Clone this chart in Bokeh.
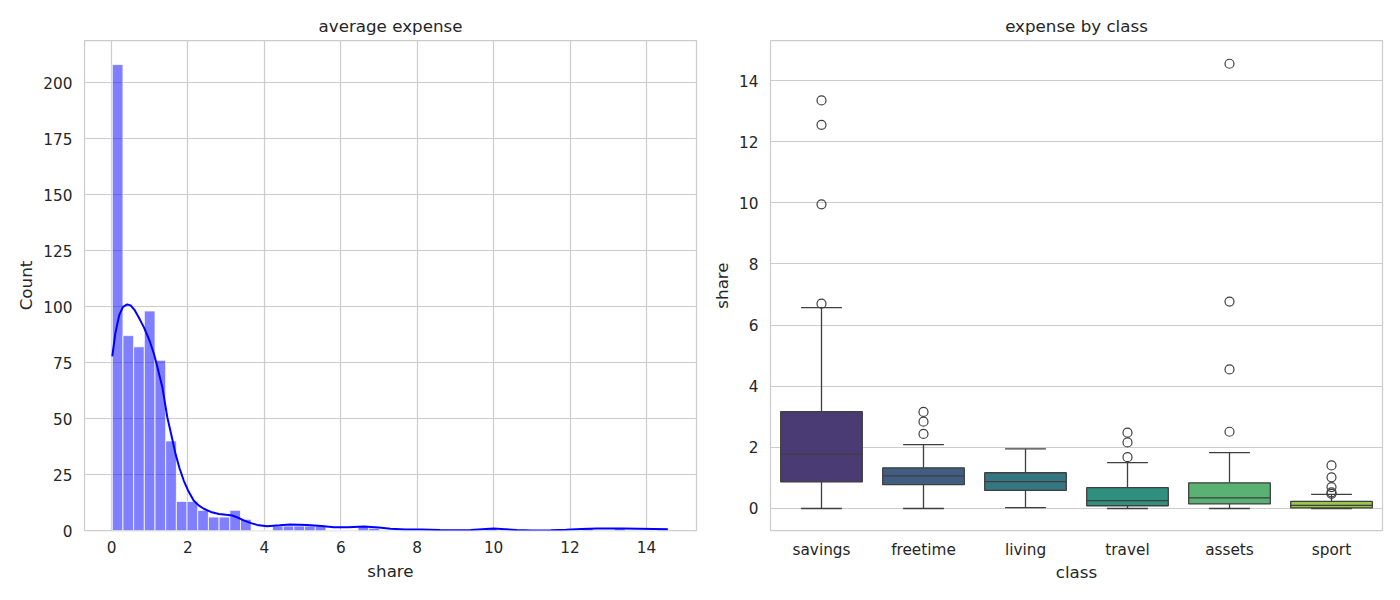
import numpy as np
from bokeh.plotting import figure
from bokeh.layouts import row
from bokeh.models import Range1d, FactorRange, FixedTicker, ColumnDataSource
from bokeh.transform import dodge
from bokeh.embed import file_html
from bokeh.resources import INLINE

# ---------------- data ----------------
hist_min = 0.02
hist_max = 14.56
hist_counts = [208, 87, 82, 98, 76, 40, 13, 13, 9, 6, 6, 9, 5, 0, 0,
               2, 2, 2, 2, 2, 0, 0, 0, 2, 1, 0, 0, 0, 0, 0,
               0, 0, 0, 0, 0, 1, 0, 0, 0, 0, 0, 0, 0, 0, 1,
               0, 0, 1, 0, 0, 0, 1]

kde_x = [0.02, 0.1, 0.2, 0.3, 0.41, 0.5, 0.6, 0.7, 0.845, 1.0, 1.11, 1.2, 1.33,
         1.46, 1.575, 1.675, 1.78, 1.89, 2.0, 2.15, 2.28, 2.415, 2.6,
         2.81, 3.0, 3.16, 3.3, 3.46, 3.65, 3.81, 4.07, 4.4, 4.68, 5.12, 5.5, 5.82,
         6.2, 6.6, 7.0, 7.3, 7.7, 8.1, 8.6, 9.0, 9.4, 9.7, 10.0, 10.3, 10.6, 11.0,
         11.5, 11.9, 12.3, 12.7, 13.0, 13.4, 13.8, 14.2, 14.56]
kde_y = [77.7, 88.0, 96.0, 99.8, 100.9, 100.5, 98.5, 95.5, 90.8, 84.5, 78.9, 73.0, 64.0,
         50.6, 42.0, 34.2, 27.8, 22.3, 18.0, 13.4, 11.2, 9.7, 8.3,
         7.4, 7.0, 6.7, 5.8, 4.5, 3.3, 2.5, 1.9, 2.3, 2.7, 2.5, 2.0, 1.5,
         1.4, 1.8, 1.3, 0.75, 0.5, 0.45, 0.2, 0.1, 0.2, 0.6, 0.9, 0.6, 0.2, 0.05,
         0.1, 0.3, 0.7, 0.9, 0.9, 0.9, 0.8, 0.7, 0.6]

hist_xticks = [0, 2, 4, 6, 8, 10, 12, 14]
hist_yticks = [0, 25, 50, 75, 100, 125, 150, 175, 200]

classes = ["savings", "freetime", "living", "travel", "assets", "sport"]
q1 = [0.87, 0.78, 0.59, 0.09, 0.15, 0.02]
med = [1.77, 1.07, 0.88, 0.26, 0.35, 0.10]
q3 = [3.17, 1.33, 1.17, 0.68, 0.84, 0.23]
whisk_lo = [0.0, 0.0, 0.03, 0.0, 0.0, 0.0]
whisk_hi = [6.57, 2.09, 1.95, 1.50, 1.83, 0.46]
outliers_savings = [6.70, 9.95, 12.55, 13.35]
outliers_freetime = [2.44, 2.84, 3.16]
outliers_living = []
outliers_travel = [1.68, 2.16, 2.48]
outliers_assets = [2.51, 4.55, 6.77, 14.55]
outliers_sport = [0.48, 0.53, 0.70, 1.02, 1.41]
box_yticks = [0, 2, 4, 6, 8, 10, 12, 14]

box_colors = ["#4b3b75", "#415d82", "#347681", "#2f917d", "#59b273", "#9ac64d"]

# ---------------- styling helpers ----------------
FONT = "DejaVu Sans"
TXT = "#262626"
GRID = "#cccccc"


def style(p):
    p.background_fill_color = "white"
    p.border_fill_color = "white"
    p.outline_line_color = GRID
    p.outline_line_width = 1.25
    p.title.align = "center"
    p.title.text_font = FONT
    p.title.text_font_size = "16.7px"
    p.title.text_font_style = "normal"
    p.title.text_color = TXT
    p.title.standoff = 9
    for ax in (p.xaxis, p.yaxis):
        ax.axis_line_color = None
        ax.major_tick_line_color = None
        ax.minor_tick_line_color = None
        ax.major_tick_out = 0
        ax.major_tick_in = 0
        ax.major_label_text_font = FONT
        ax.major_label_text_font_size = "15.3px"
        ax.major_label_text_color = TXT
        ax.axis_label_text_font = FONT
        ax.axis_label_text_font_size = "16.7px"
        ax.axis_label_text_font_style = "normal"
        ax.axis_label_text_color = TXT
    p.xaxis.major_label_standoff = 10
    p.yaxis.major_label_standoff = 12
    p.xaxis.axis_label_standoff = 5
    p.yaxis.axis_label_standoff = 4
    p.grid.grid_line_color = GRID
    p.grid.grid_line_width = 1.2


# ---------------- left: histogram ----------------
edges = np.linspace(hist_min, hist_max, len(hist_counts) + 1)
hsrc = ColumnDataSource(dict(left=edges[:-1], right=edges[1:], top=hist_counts,
                             bottom=[0] * len(hist_counts)))

p1 = figure(width=702, height=600, x_range=Range1d(-0.707, 15.31), y_range=Range1d(0, 218.75),
            output_backend="svg", toolbar_location=None, title="average expense",
            min_border_left=84, min_border_right=6, min_border_top=40, min_border_bottom=70)
style(p1)
p1.xaxis.ticker = FixedTicker(ticks=hist_xticks)
p1.yaxis.ticker = FixedTicker(ticks=hist_yticks)
p1.xaxis.axis_label = "share"
p1.yaxis.axis_label = "Count"
p1.quad(left="left", right="right", top="top", bottom="bottom", source=hsrc,
        fill_color="#0000ff", fill_alpha=0.5, line_color="white", line_width=0.8)
p1.line(kde_x, kde_y, line_color="#0000ff", line_width=2)

# ---------------- right: boxplot ----------------
bsrc = ColumnDataSource(dict(cls=classes, q1=q1, q3=q3, med=med, lo=whisk_lo, hi=whisk_hi,
                             color=box_colors))
out_lists = [outliers_savings, outliers_freetime, outliers_living,
             outliers_travel, outliers_assets, outliers_sport]
ox, oy = [], []
for c, vals in zip(classes, out_lists):
    for v in vals:
        ox.append(c)
        oy.append(v)

p2 = figure(width=698, height=600, x_range=FactorRange(*classes), y_range=Range1d(-0.72, 15.31),
            output_backend="svg", toolbar_location=None, title="expense by class",
            min_border_left=68, min_border_right=18, min_border_top=40, min_border_bottom=70)
style(p2)
p2.xaxis.axis_label_standoff = 0
p2.xgrid.grid_line_color = None
p2.yaxis.ticker = FixedTicker(ticks=box_yticks)
p2.xaxis.axis_label = "class"
p2.yaxis.axis_label = "share"

LC = "#3f3f3f"
LW = 1.3
p2.segment(x0="cls", x1="cls", y0="lo", y1="q1", source=bsrc, line_color=LC, line_width=LW)
p2.segment(x0="cls", x1="cls", y0="q3", y1="hi", source=bsrc, line_color=LC, line_width=LW)
p2.segment(x0=dodge("cls", -0.2, range=p2.x_range), x1=dodge("cls", 0.2, range=p2.x_range),
           y0="lo", y1="lo", source=bsrc, line_color=LC, line_width=LW)
p2.segment(x0=dodge("cls", -0.2, range=p2.x_range), x1=dodge("cls", 0.2, range=p2.x_range),
           y0="hi", y1="hi", source=bsrc, line_color=LC, line_width=LW)
p2.vbar(x="cls", width=0.8, bottom="q1", top="q3", source=bsrc,
        fill_color="color", line_color=LC, line_width=LW)
p2.segment(x0=dodge("cls", -0.4, range=p2.x_range), x1=dodge("cls", 0.4, range=p2.x_range),
           y0="med", y1="med", source=bsrc, line_color=LC, line_width=LW)
p2.scatter(x=ox, y=oy, marker="circle", size=9, fill_color=None, line_color=LC, line_width=1.2)

layout = row(p1, p2)
open("out.html", "w").write(file_html(layout, INLINE))
